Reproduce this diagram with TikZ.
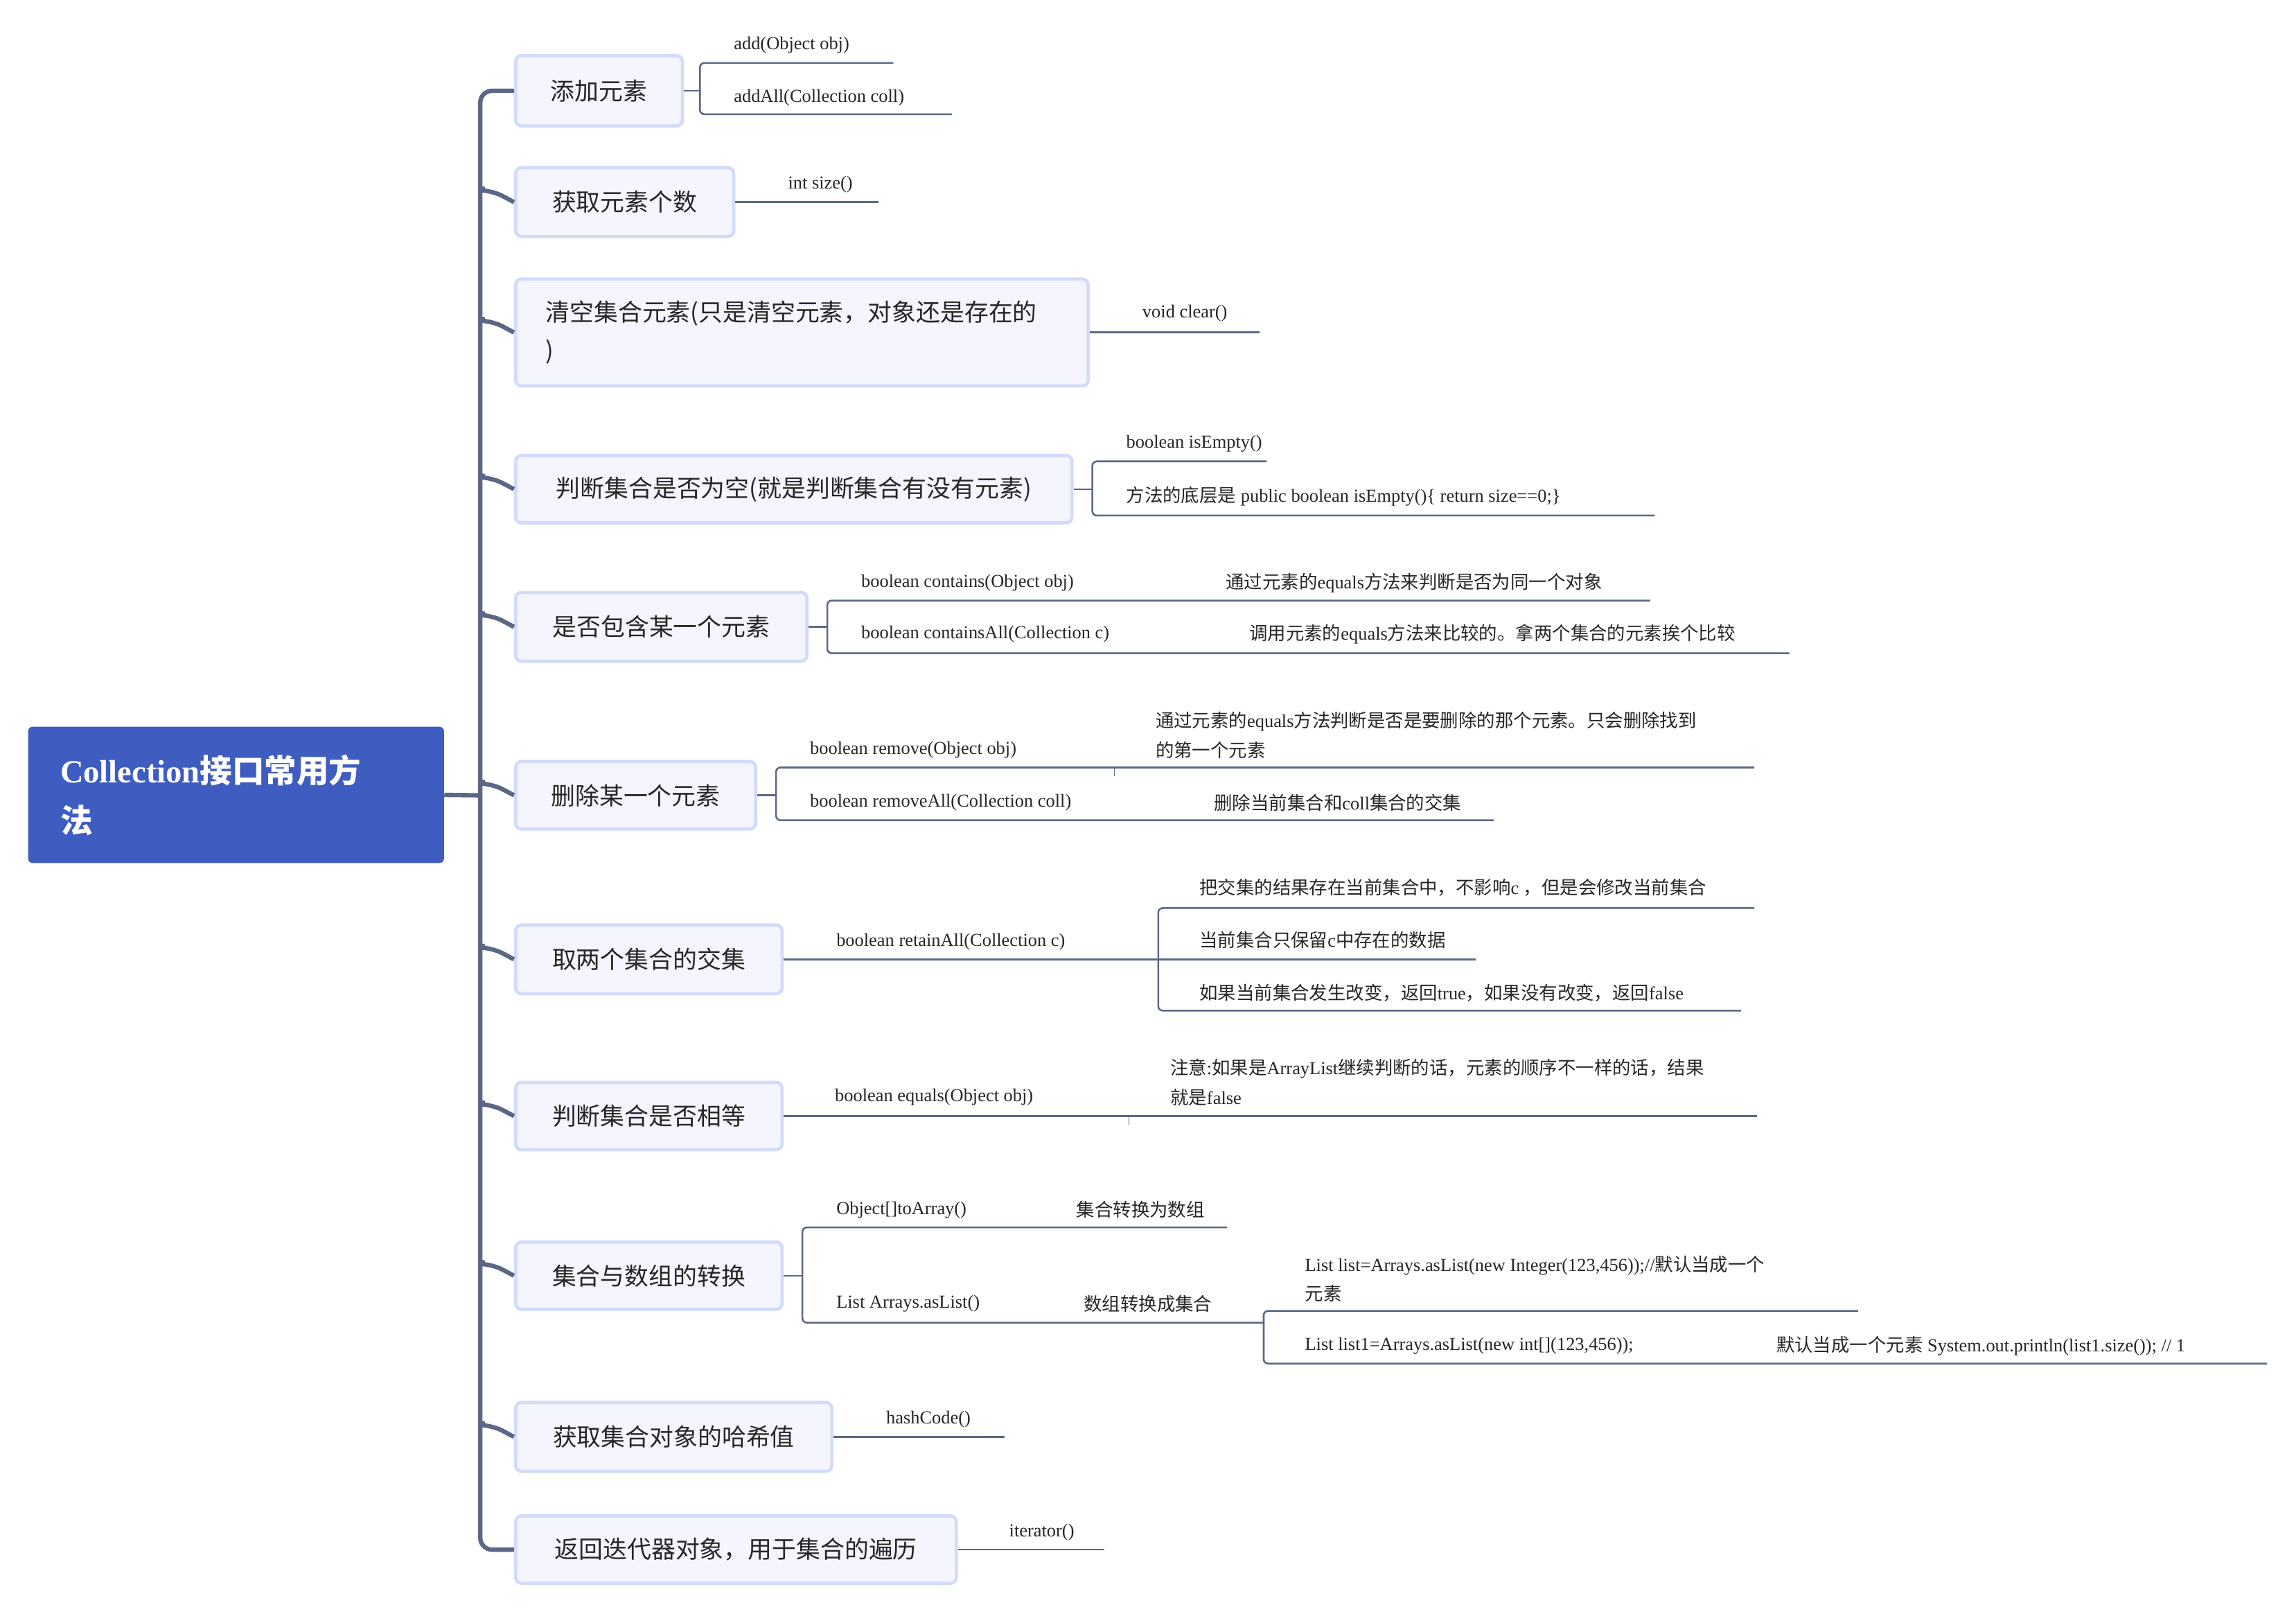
\documentclass[tikz,border=0pt]{standalone}
\usepackage{fontspec}
\setmainfont{Liberation Serif}
\newfontfamily\cjk{Noto Sans CJK SC}
\newcommand{\z}[1]{{\cjk #1}}
\definecolor{spinec}{HTML}{5B6785}
\definecolor{boxfill}{HTML}{F4F5FE}
\definecolor{boxline}{HTML}{D3DBFA}
\definecolor{rootc}{HTML}{3F5CC0}
\tikzset{
  topic/.style={draw=boxline,fill=boxfill,line width=2.2pt,rounded corners=4pt,anchor=west,align=left,inner xsep=20pt,font=\fontsize{16.5}{26}\selectfont\cjk,text=black!85},
  lt/.style={anchor=west,inner sep=0pt,font=\fontsize{12.5}{20}\selectfont,align=left,text=black!85},
  spine/.style={draw=spinec,line width=3pt,rounded corners=8pt},
  leaf/.style={draw=spinec,line width=1.2pt,rounded corners=3pt},
}
\begin{document}
\begin{tikzpicture}[x=1pt,y=-1pt]
\useasboundingbox (0,0) rectangle (1568,1101.5);
% root
\node[fill=rootc,rounded corners=3pt,minimum width=284pt,minimum height=93pt,anchor=north west,text width=240pt,align=left,text=white,font=\fontsize{22}{34}\selectfont\bfseries,inner xsep=22pt] (root) at (19,496) {Collection\z{接口常用方}\\\z{法}};
% topics
\node[topic,minimum height=48pt,minimum width=114pt] (b1) at (351,62) {添加元素};
\node[topic,minimum height=47pt,minimum width=149pt] (b2) at (351,138) {获取元素个数};
\node[topic,minimum height=73pt,minimum width=391pt,text width=350pt] (b3) at (351,227) {清空集合元素(只是清空元素，对象还是存在的\\)};
\node[topic,minimum height=46pt,minimum width=380pt] (b4) at (351,334) {判断集合是否为空(就是判断集合有没有元素)};
\node[topic,minimum height=47pt,minimum width=199pt] (b5) at (351,428) {是否包含某一个元素};
\node[topic,minimum height=46pt,minimum width=164pt] (b6) at (351,543) {删除某一个元素};
\node[topic,minimum height=47pt,minimum width=182pt] (b7) at (351,655) {取两个集合的交集};
\node[topic,minimum height=46pt,minimum width=182pt] (b8) at (351,762) {判断集合是否相等};
\node[topic,minimum height=46pt,minimum width=182pt] (b9) at (351,871) {集合与数组的转换};
\node[topic,minimum height=47pt,minimum width=216pt] (b10) at (351,981) {获取集合对象的哈希值};
\node[topic,minimum height=46pt,minimum width=301pt] (b11) at (351,1058) {返回迭代器对象，用于集合的遍历};
% spine
\coordinate (sp) at (328,543);
\draw[spine] (root.east) -- (sp);
\draw[spine] (b1.west) -- (328,62) -- (328,1058) -- (b11.west);
\foreach \b in {b2,b3,b4,b5,b6,b7,b8,b9,b10} \draw[spine] (328,0|-\b.west) ++(0,-8) to[out=90,in=180] ++(8,-0) -- (\b.west);
% leaves box1
\node[lt] (l1a) at (501,31) {add(Object obj)};
\node[lt] (l1b) at (501,67) {addAll(Collection coll)};
\coordinate (j1) at (478,62);
\draw[leaf] (b1.east) -- (j1);
\draw[leaf] (610,43) -- (478,43) -- (478,78) -- (650,78);
% box2
\node[lt] (l2) at (538,126) {int size()};
\draw[leaf] (b2.east) -- (600,138);
% box3
\node[lt] (l3) at (780,214) {void clear()};
\draw[leaf] (b3.east) -- (860,227);
% box4
\node[lt] (l4a) at (769,303) {boolean isEmpty()};
\node[lt] (l4b) at (769,339) {\z{方法的底层是} public boolean isEmpty()\{ return size==0;\}};
\draw[leaf] (b4.east) -- (746,334);
\draw[leaf] (865,315) -- (746,315) -- (746,352) -- (1130,352);
% box5
\node[lt] (l5a) at (588,398) {boolean contains(Object obj)};
\node[lt] (l5b) at (837,398) {\z{通过元素的}equals\z{方法来判断是否为同一个对象}};
\node[lt] (l5c) at (588,433) {boolean containsAll(Collection c)};
\node[lt] (l5d) at (853,433) {\z{调用元素的}equals\z{方法来比较的。拿两个集合的元素挨个比较}};
\draw[leaf] (b5.east) -- (565,428);
\draw[leaf] (1127,410) -- (565,410) -- (565,446) -- (1222,446);
% box6
\node[lt] (l6a) at (553,512) {boolean remove(Object obj)};
\node[lt] (l6b) at (789,502) {\z{通过元素的}equals\z{方法判断是否是要删除的那个元素。只会删除找到}\\\z{的第一个元素}};
\node[lt] (l6c) at (553,548) {boolean removeAll(Collection coll)};
\node[lt] (l6d) at (829,548) {\z{删除当前集合和}coll\z{集合的交集}};
\draw[leaf] (b6.east) -- (530,543);
\draw[leaf] (1198,524) -- (530,524) -- (530,560) -- (1020,560);
\draw[draw=spinec,line width=0.8pt] (761,524) -- (761,530);
% box7
\node[lt] (l7a) at (571,643) {boolean retainAll(Collection c)};
\node[lt] (l7b) at (819,606) {\z{把交集的结果存在当前集合中，不影响}c \z{，但是会修改当前集合}};
\node[lt] (l7c) at (819,642) {\z{当前集合只保留}c\z{中存在的数据}};
\node[lt] (l7d) at (819,678) {\z{如果当前集合发生改变，返回}true\z{，如果没有改变，返回}false};
\draw[leaf] (b7.east) -- (1008,655);
\draw[leaf] (1198,620) -- (791,620) -- (791,690) -- (1189,690);
% box8
\node[lt] (l8a) at (570,749) {boolean equals(Object obj)};
\node[lt] (l8b) at (799,739) {\z{注意}:\z{如果是}ArrayList\z{继续判断的话，元素的顺序不一样的话，结果}\\\z{就是}false};
\draw[leaf] (b8.east) -- (1200,762);
\draw[draw=spinec,line width=0.8pt] (771,762) -- (771,768);
% box9
\node[lt] (l9a) at (571,826) {Object[]toArray()};
\node[lt] (l9b) at (735,826) {\z{集合转换为数组}};
\node[lt] (l9c) at (571,890) {List Arrays.asList()};
\node[lt] (l9d) at (740,890) {\z{数组转换成集合}};
\node[lt] (l9e) at (891,873) {List list=Arrays.asList(new Integer(123,456));//\z{默认当成一个}\\\z{元素}};
\node[lt] (l9f) at (891,919) {List list1=Arrays.asList(new int[](123,456));};
\node[lt] (l9g) at (1213,919) {\z{默认当成一个元素} System.out.println(list1.size()); // 1};
\draw[leaf] (b9.east) -- (548,871);
\draw[leaf] (838,838) -- (548,838) -- (548,903) -- (863,903);
\draw[leaf] (1269,895) -- (863,895) -- (863,931) -- (1548,931);
% box10
\node[lt] (l10) at (605,969) {hashCode()};
\draw[leaf] (b10.east) -- (686,981);
% box11
\node[lt] (l11) at (689,1046) {iterator()};
\draw[leaf] (b11.east) -- (754,1058);
\end{tikzpicture}
\end{document}
